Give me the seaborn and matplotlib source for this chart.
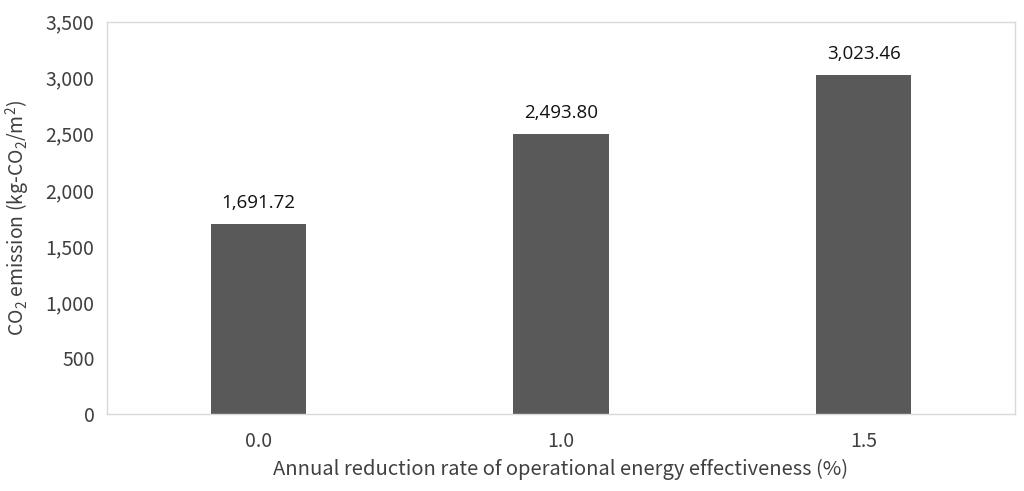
import matplotlib
matplotlib.use("Agg")
import matplotlib.pyplot as plt
import seaborn as sns
import pandas as pd

categories = ["0.0", "1.0", "1.5"]
values = [1691.72, 2493.80, 3023.46]
yticks = [0, 500, 1000, 1500, 2000, 2500, 3000, 3500]

sns.set_theme(style="white")
plt.rcParams['font.family'] = ['Noto Sans CJK KR', 'DejaVu Sans']
plt.rcParams['mathtext.fontset'] = 'custom'
plt.rcParams['mathtext.rm'] = 'Noto Sans CJK KR'
plt.rcParams['mathtext.it'] = 'Noto Sans CJK KR'

df = pd.DataFrame({"rate": categories, "co2": values})

fig = plt.figure(figsize=(10.24, 4.91), dpi=100)
ax = fig.add_axes([0.1045, 0.1568, 0.8867, 0.7990])
sns.barplot(data=df, x="rate", y="co2", color="#595959", saturation=1,
            width=0.314, ax=ax, edgecolor="none")

ax.set_ylim(0, 3500)
ax.set_xlim(-0.5, 2.5)
ax.set_yticks(yticks)
ax.set_yticklabels([f"{v:,}" for v in yticks])
ax.tick_params(axis='both', length=0, labelsize=14, colors="#404040", pad=9)
ax.tick_params(axis='x', pad=12)

for sp in ax.spines.values():
    sp.set_color("#d9d9d9")
    sp.set_linewidth(1.0)

for i, v in enumerate(values):
    ax.text(i, v + 110, f"{v:,.2f}", ha="center", va="bottom",
            fontsize=13.5, color="#111111", family=["Open Sans", "DejaVu Sans"])

ax.set_xlabel("Annual reduction rate of operational energy effectiveness (%)",
              fontsize=14.5, color="#404040", labelpad=5)
ax.set_ylabel(r"CO$_2$ emission (kg-CO$_2$/m$^2$)", fontsize=14, color="#404040", labelpad=10)

fig.savefig("out.png", dpi=100, facecolor="white")
